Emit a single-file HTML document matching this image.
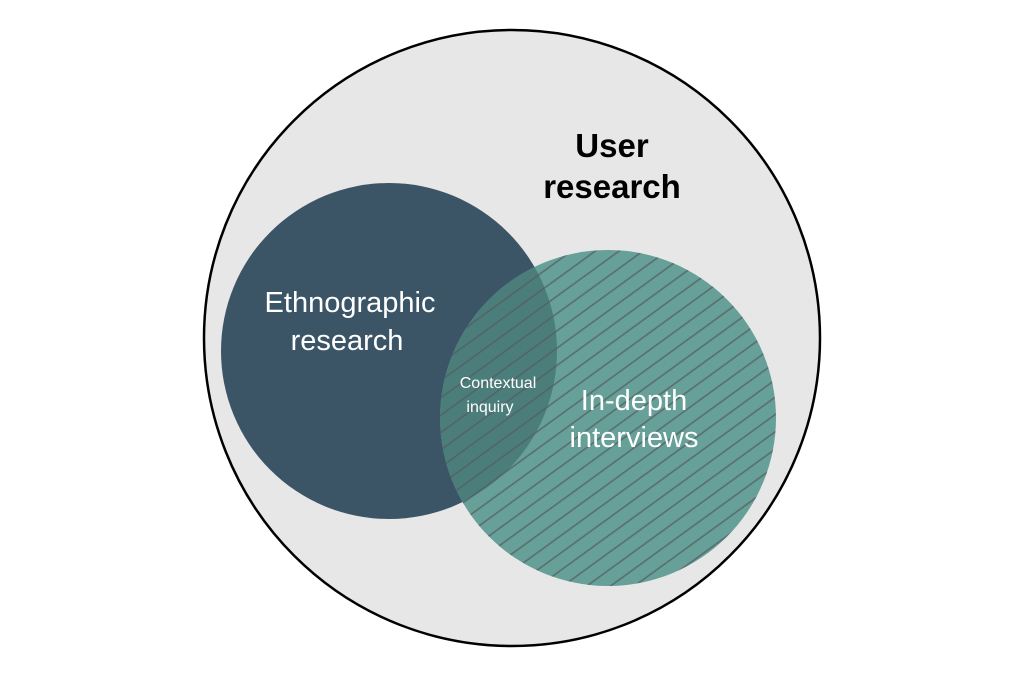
<!DOCTYPE html>
<html><head><style>body{margin:0;background:#fff}</style></head><body>
<svg width="1024" height="677" viewBox="0 0 1024 677" xmlns="http://www.w3.org/2000/svg">
<defs>
<pattern id="h" patternUnits="userSpaceOnUse" width="14" height="14" patternTransform="rotate(-36)">
<line x1="0" y1="7" x2="14" y2="7" stroke="#555d60" stroke-width="1.5" stroke-opacity="0.8"/>
</pattern>
<clipPath id="c"><circle cx="608" cy="418" r="168"/></clipPath>
</defs>
<circle cx="512" cy="338" r="308" fill="#e7e7e7" stroke="#000" stroke-width="2.5"/>
<circle cx="389" cy="351" r="168" fill="#3b5566"/>
<circle cx="608" cy="418" r="168" fill="#66a098"/>
<circle cx="389" cy="351" r="168" fill="#4b7d7a" clip-path="url(#c)"/>
<rect x="430" y="240" width="360" height="360" fill="url(#h)" clip-path="url(#c)"/>
<g font-family="Liberation Sans, sans-serif" text-anchor="middle">
<text x="612" y="157" font-size="33" font-weight="bold" fill="#000">User</text>
<text x="612" y="198" font-size="33" font-weight="bold" fill="#000">research</text>
<text x="350" y="312" font-size="29" fill="#fff">Ethnographic</text>
<text x="347" y="350" font-size="29" fill="#fff">research</text>
<text x="498" y="388" font-size="16" fill="#fff">Contextual</text>
<text x="490" y="412" font-size="16" fill="#fff">inquiry</text>
<text x="634" y="410" font-size="29" fill="#fff">In-depth</text>
<text x="634" y="447" font-size="29" fill="#fff">interviews</text>
</g>
</svg>
</body></html>
